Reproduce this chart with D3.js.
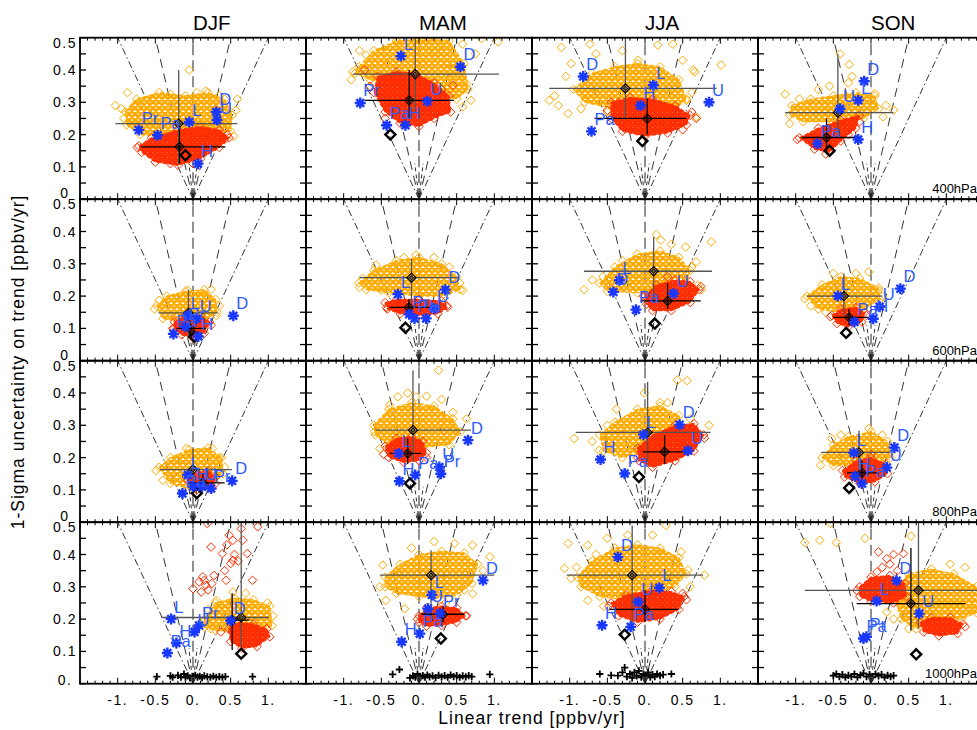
<!DOCTYPE html>
<html><head><meta charset="utf-8">
<script src="https://cdn.jsdelivr.net/npm/d3@7"></script>
<style>body{margin:0;background:#fff} svg{display:block} text{font-family:"Liberation Sans",Arial,Helvetica,sans-serif}</style>
</head><body><svg id="c" width="977" height="730"></svg>
<script>
// ---------------- DATA ----------------
const seasons = ["DJF","MAM","JJA","SON"];
const levels = ["400hPa","600hPa","800hPa","1000hPa"];
const xTicks = [-1,-0.5,0,0.5,1];
const xTickLabels = ["-1.","-0.5","0.","0.5","1."];
const yTicks = [0.5,0.4,0.3,0.2,0.1,0];
const yTickLabels = ["0.5","0.4","0.3","0.2","0.1","0"];
const yTickLabelsBottom = ["0.5","0.4","0.3","0.2","0.1","0."];
const fanRatios = [0,1,-1,2,-2];
const shortFanRatios = [0.5,-0.5];

// panels in row-major order: 400hPa DJF..SON, 600hPa ..., 800hPa ..., 1000hPa ...
const orangeCore = [
 [[-0.9,0.27,-0.75,0.31,-0.45,0.33,-0.1,0.32,0.2,0.33,0.42,0.31,0.52,0.26,0.5,0.21,0.2,0.2,-0.3,0.19,-0.7,0.2,-0.88,0.23]],
 [[-0.8,0.41,-0.6,0.46,-0.3,0.49,0.1,0.5,0.4,0.49,0.6,0.42,0.65,0.34,0.5,0.31,0.2,0.33,-0.3,0.35,-0.65,0.37,-0.85,0.39]],
 [[-0.95,0.34,-0.7,0.39,-0.4,0.41,-0.1,0.42,0.2,0.41,0.45,0.37,0.55,0.31,0.4,0.28,0.0,0.29,-0.4,0.28,-0.8,0.3]],
 [[-1.05,0.29,-0.8,0.31,-0.5,0.32,-0.2,0.33,0.05,0.32,0.1,0.28,-0.1,0.25,-0.5,0.24,-0.9,0.24,-1.08,0.26]],
 [[-0.48,0.17,-0.35,0.2,-0.1,0.215,0.15,0.22,0.3,0.19,0.32,0.15,0.15,0.125,-0.1,0.12,-0.4,0.13]],
 [[-0.8,0.24,-0.6,0.28,-0.3,0.31,0.0,0.32,0.3,0.3,0.5,0.26,0.55,0.22,0.3,0.2,0.0,0.2,-0.4,0.21,-0.7,0.22]],
 [[-0.6,0.24,-0.4,0.29,-0.1,0.33,0.2,0.34,0.45,0.32,0.6,0.28,0.55,0.24,0.3,0.22,-0.1,0.21,-0.5,0.215]],
 [[-0.85,0.2,-0.65,0.235,-0.4,0.26,-0.15,0.255,0.1,0.225,0.12,0.19,-0.1,0.16,-0.4,0.15,-0.7,0.16]],
 [[-0.45,0.17,-0.3,0.2,-0.05,0.225,0.2,0.23,0.38,0.2,0.4,0.15,0.25,0.11,0.0,0.1,-0.3,0.12]],
 [[-0.6,0.3,-0.4,0.35,-0.1,0.37,0.2,0.36,0.45,0.32,0.55,0.28,0.4,0.24,0.0,0.23,-0.4,0.24,-0.58,0.27]],
 [[-0.6,0.27,-0.4,0.31,-0.1,0.35,0.2,0.36,0.45,0.33,0.5,0.28,0.3,0.24,0.0,0.22,-0.3,0.2,-0.55,0.22]],
 [[-0.65,0.2,-0.5,0.24,-0.3,0.265,0.0,0.28,0.22,0.25,0.26,0.2,0.1,0.18,-0.2,0.175,-0.5,0.175]],
 [[0.15,0.2,0.3,0.25,0.55,0.265,0.8,0.26,1.02,0.24,1.05,0.18,0.9,0.16,0.6,0.16,0.3,0.165,0.15,0.175]],
 [[-0.45,0.33,-0.25,0.37,0.0,0.4,0.3,0.41,0.6,0.405,0.78,0.37,0.7,0.31,0.5,0.275,0.25,0.265,0.0,0.27,-0.3,0.28,-0.45,0.3]],
 [[-0.9,0.33,-0.7,0.38,-0.4,0.42,-0.1,0.43,0.2,0.42,0.45,0.39,0.55,0.34,0.4,0.3,0.1,0.28,-0.3,0.26,-0.6,0.27,-0.85,0.3]],
 [[0.35,0.3,0.5,0.34,0.8,0.355,1.1,0.34,1.4,0.3,1.4,0.22,1.2,0.2,0.9,0.2,0.6,0.17,0.4,0.2,0.32,0.26]]
];
const orangePts = [
 [-0.05,0.40,-1.03,0.29,-0.92,0.25,-0.87,0.33,0.54,0.195,0.59,0.31,0.57,0.275,0.17,0.335,0.26,0.31,-0.41,0.32,-0.54,0.31,-0.67,0.30,-0.78,0.29,-0.3,0.325,0.05,0.33,0.35,0.32,0.45,0.28,-0.6,0.27,-0.95,0.28],
 [-0.79,0.46,-0.70,0.446,-0.88,0.394,-0.28,0.487,0.27,0.47,0.58,0.48,1.05,0.487,0.83,0.497,0.69,0.306,0.58,0.286,0.63,0.358,0.49,0.38,-0.5,0.42,-0.1,0.44,0.75,0.45,0.2,0.455,-0.9,0.37],
 [-1.11,0.47,-0.73,0.48,-0.98,0.42,-1.27,0.306,-1.15,0.29,-1.02,0.265,0.37,0.48,0.17,0.477,1.01,0.415,0.66,0.394,0.64,0.40,0.68,0.255,0.55,0.306,-0.65,0.45,-0.09,0.43,-1.2,0.32,-0.85,0.28,-0.5,0.27,0.5,0.43,-0.3,0.46,-1.05,0.38,0.62,0.33],
 [-0.41,0.45,-0.29,0.417,-1.14,0.325,0.30,0.276,0.16,0.255,0.05,0.327,-1.08,0.234,-0.55,0.35,-0.7,0.34,-0.3,0.36,0.2,0.29,-0.95,0.31,-0.25,0.38],
 [-0.07,0.218,0.24,0.221,-0.45,0.187,0.31,0.14,-0.51,0.16,0.35,0.17,-0.3,0.14,0.1,0.2],
 [-0.79,0.228,-0.68,0.239,-0.5,0.218,0.58,0.218,0.54,0.24,-0.57,0.296,-0.04,0.327,-0.2,0.32,0.2,0.32,0.4,0.29,-0.75,0.255],
 [0.15,0.39,0.21,0.373,0.35,0.36,0.54,0.352,0.88,0.368,-0.81,0.22,0.7,0.233,0.75,0.22,-0.56,0.26,0.68,0.306,-0.3,0.31,0.62,0.29,-0.7,0.25],
 [-0.03,0.275,-0.88,0.192,0.1,0.218,-0.5,0.27,-0.2,0.27,0.15,0.2,-0.8,0.17,-0.6,0.15],
 [-0.09,0.228,0.26,0.228,0.35,0.2,-0.49,0.16,0.42,0.17,-0.4,0.13],
 [0.26,0.47,-0.28,0.388,-0.39,0.363,-0.04,0.388,0.63,0.32,0.4,0.305,-0.52,0.228,-0.59,0.28,0.3,0.38,0.45,0.34,-0.15,0.4,0.1,0.39],
 [0.43,0.44,0.56,0.438,-0.01,0.4,-0.38,0.35,0.2,0.37,-0.94,0.259,0.85,0.3,-0.61,0.223,-0.7,0.25,0.6,0.32,-0.5,0.3,0.3,0.37],
 [-0.03,0.29,-0.67,0.176,-0.52,0.259,0.28,0.22,-0.4,0.27,0.15,0.27],
 [0.31,0.258,0.99,0.25,0.24,0.17,0.53,0.284,0.2,0.23,0.7,0.28,1.06,0.21,0.13,0.19],
 [-0.48,0.367,-0.52,0.3,-0.44,0.258,-0.19,0.232,0.47,0.434,0.71,0.429,0.94,0.393,0.71,0.279,0.6,0.29,0.2,0.44,-0.1,0.42,0.85,0.35,0.35,0.25,-0.3,0.35],
 [-1.02,0.434,-0.76,0.429,0.28,0.49,-0.23,0.46,0.48,0.408,-1.07,0.357,-0.98,0.326,-0.91,0.36,-0.76,0.258,0.79,0.336,0.57,0.352,0.6,0.3,-0.55,0.24,-0.5,0.45,0.1,0.46,-0.65,0.4],
 [-0.88,0.437,-0.68,0.444,-0.46,0.437,-0.08,0.45,-0.54,0.496,0.53,0.457,0.21,0.222,0.3,0.2,1.25,0.36,1.05,0.37,0.5,0.17,1.35,0.23]
];
const redCore = [
 [[-0.72,0.165,-0.55,0.19,-0.2,0.215,0.1,0.225,0.35,0.215,0.48,0.19,0.35,0.16,0.1,0.125,-0.2,0.105,-0.5,0.115,-0.68,0.145]],
 [[-0.55,0.38,-0.3,0.395,-0.05,0.39,0.2,0.36,0.4,0.32,0.42,0.27,0.2,0.25,0.0,0.225,-0.25,0.235,-0.45,0.27,-0.6,0.33]],
 [[-0.45,0.3,-0.2,0.315,0.1,0.31,0.4,0.29,0.6,0.26,0.55,0.23,0.3,0.205,0.0,0.195,-0.3,0.21,-0.45,0.25]],
 [[-0.95,0.19,-0.7,0.22,-0.4,0.245,-0.15,0.26,-0.2,0.22,-0.4,0.18,-0.55,0.145,-0.75,0.155]],
 [[-0.25,0.12,-0.1,0.14,0.1,0.14,0.22,0.12,0.15,0.085,0.0,0.07,-0.15,0.08,-0.25,0.1]],
 [[-0.45,0.18,-0.3,0.19,0.0,0.19,0.3,0.185,0.38,0.165,0.25,0.145,0.0,0.14,-0.25,0.145,-0.42,0.16]],
 [[0.0,0.2,0.15,0.235,0.4,0.25,0.6,0.245,0.72,0.22,0.6,0.18,0.35,0.155,0.1,0.155,0.02,0.175]],
 [[-0.52,0.14,-0.4,0.16,-0.2,0.165,-0.08,0.15,-0.12,0.12,-0.3,0.105,-0.45,0.115]],
 [[-0.07,0.13,0.05,0.155,0.2,0.16,0.3,0.14,0.25,0.105,0.05,0.1]],
 [[-0.45,0.235,-0.3,0.26,-0.1,0.265,0.05,0.25,0.1,0.215,0.0,0.19,-0.2,0.185,-0.4,0.2]],
 [[-0.1,0.23,0.1,0.27,0.4,0.3,0.65,0.305,0.78,0.27,0.65,0.22,0.4,0.19,0.1,0.17,-0.08,0.19]],
 [[-0.38,0.16,-0.2,0.19,0.0,0.2,0.2,0.18,0.22,0.15,0.05,0.125,-0.15,0.12,-0.35,0.14]],
 [[0.47,0.17,0.6,0.19,0.8,0.185,0.98,0.17,1.02,0.145,0.85,0.115,0.65,0.11,0.5,0.13]],
 [[0.0,0.21,0.1,0.235,0.3,0.24,0.5,0.235,0.62,0.21,0.5,0.19,0.3,0.18,0.1,0.178,0.0,0.19]],
 [[-0.45,0.25,-0.25,0.275,0.1,0.29,0.35,0.285,0.52,0.27,0.45,0.23,0.2,0.2,-0.1,0.19,-0.35,0.21]],
 [[-0.15,0.3,0.0,0.33,0.25,0.335,0.45,0.31,0.47,0.27,0.3,0.25,0.0,0.255,-0.15,0.27],
  [0.65,0.19,0.8,0.205,1.05,0.205,1.22,0.185,1.15,0.155,0.9,0.148,0.7,0.16]]
];
const redPts = [
 [-0.74,0.16,0.46,0.2,0.42,0.185,-0.3,0.11,0.0,0.11],
 [-0.72,0.40,0.45,0.353,0.36,0.276,-0.65,0.35,0.3,0.34,-0.45,0.25],
 [-0.5,0.275,0.62,0.27,0.68,0.25,0.5,0.215,-0.35,0.3],
 [-0.98,0.185,-0.15,0.24,-0.3,0.2,-0.6,0.14],
 [-0.27,0.1,0.24,0.11],
 [-0.43,0.165,0.37,0.17],
 [0.3,0.26,0.74,0.23,-0.02,0.2],
 [-0.54,0.136,-0.06,0.14],
 [0.3,0.12],
 [-0.47,0.21,0.1,0.2],
 [0.79,0.26,-0.1,0.2],
 [0.0,0.21],
 [0.24,0.423,0.13,0.331,0.0,0.294,0.39,0.403,0.53,0.444,0.48,0.46,0.64,0.48,0.66,0.444,0.86,0.486,0.79,0.32,0.72,0.403,0.53,0.382,0.5,0.372,0.28,0.335,0.17,0.305,0.44,0.32,0.11,0.284,0.08,0.315,0.19,0.496,0.37,0.16,0.6,0.38,0.55,0.4,0.2,0.29,0.25,0.31,0.15,0.32,0.45,0.43,0.42,0.35],
 [-0.02,0.2,0.63,0.21],
 [-0.48,0.24,0.55,0.26,0.5,0.28],
 [0.1,0.408,0.21,0.387,0.43,0.403,0.08,0.346,-0.19,0.289,0.3,0.4,0.15,0.36,0.25,0.37,1.25,0.176,0.35,0.35]
];
// error crosses: [centre x, centre y, x low, x high, y low, y high]
const crossOrange = [
 [-0.19,0.234,-1.03,0.59,0.11,0.40],[-0.05,0.387,-0.88,1.06,0.27,0.52],[-0.26,0.343,-1.27,0.95,0.245,0.52],[-0.44,0.268,-1.14,0.30,0.2,0.45],
 [-0.06,0.148,-0.46,0.33,0.07,0.22],[-0.10,0.257,-0.79,0.52,0.165,0.316],[0.115,0.277,-0.81,0.89,0.182,0.383],[-0.36,0.2,-0.85,0.15,0.14,0.27],
 [0.0,0.163,-0.44,0.52,0.1,0.228],[-0.08,0.285,-0.57,0.69,0.187,0.47],[0.035,0.278,-0.92,0.87,0.192,0.434],[-0.16,0.216,-0.66,0.26,0.14,0.283],
 [0.64,0.205,-0.42,1.01,0.115,0.52],[0.16,0.336,-0.52,1.0,0.197,0.413],[-0.17,0.336,-1.04,0.77,0.186,0.49],[0.63,0.289,-0.88,1.6,0.17,0.52]
];
const crossRed = [
 [-0.18,0.162,-0.69,0.43,0.11,0.23],[-0.13,0.306,-0.72,0.46,0.25,0.40],[0.03,0.25,-0.67,0.55,0.2,0.31],[-0.59,0.191,-0.92,-0.19,0.147,0.25],
 [-0.04,0.1,-0.22,0.17,0.07,0.13],[-0.135,0.165,-0.39,0.17,0.14,0.19],[0.3,0.185,-0.06,0.74,0.16,0.24],[-0.29,0.134,-0.5,-0.03,0.11,0.16],
 [0.13,0.122,-0.07,0.42,0.1,0.15],[-0.15,0.213,-0.39,0.03,0.18,0.26],[0.26,0.218,-0.03,0.61,0.18,0.27],[-0.12,0.153,-0.32,0.1,0.125,0.19],
 [0.52,0.197,0.45,0.75,0.104,0.28],[0.32,0.215,0.03,0.6,0.19,0.24],[0.0,0.23,-0.47,0.44,0.19,0.29],[0.53,0.248,-0.19,1.25,0.165,0.42]
];
const stations = [
 [["D",0.31,0.27],["U",0.32,0.245],["L",-0.05,0.239],["Pr",-0.72,0.214],["Pa",-0.47,0.198],["H",0.066,0.11]],
 [["L",-0.24,0.443],["D",0.55,0.41],["U",0.11,0.303],["Pr",-0.78,0.298],["Pa",-0.43,0.229],["H",-0.18,0.229]],
 [["D",-0.82,0.38],["L",0.11,0.353],["H",-0.06,0.29],["U",0.85,0.30],["Pa",-0.71,0.21]],
 [["D",-0.09,0.365],["L",-0.17,0.306],["U",-0.41,0.28],["H",-0.17,0.185],["Pa",-0.71,0.172]],
 [["L",-0.07,0.14],["U",0.05,0.13],["Pr",-0.1,0.105],["Pa",-0.26,0.083],["H",0.07,0.075],["D",0.535,0.139]],
 [["L",-0.28,0.206],["D",0.35,0.22],["U",0.2,0.161],["Pr",-0.13,0.144],["Pa",-0.06,0.131],["H",0.095,0.131]],
 [["L",-0.34,0.249],["D",-0.42,0.213],["U",0.38,0.208],["Pa",-0.12,0.158]],
 [["L",-0.44,0.2],["D",0.39,0.223],["U",0.115,0.167],["H",0.03,0.13],["Pa",-0.22,0.12]],
 [["L",-0.07,0.146],["H",0.0,0.11],["U",0.12,0.11],["Pr",0.24,0.104],["Pa",-0.14,0.089],["D",0.52,0.128]],
 [["D",0.65,0.254],["L",-0.27,0.213],["H",-0.26,0.127],["Pa",-0.05,0.146],["U",0.27,0.171],["Pr",0.29,0.15]],
 [["L",-0.02,0.271],["D",0.46,0.302],["U",0.57,0.221],["H",-0.59,0.194],["Pa",-0.27,0.151]],
 [["L",-0.23,0.215],["D",0.31,0.231],["U",0.21,0.169],["H",-0.21,0.142],["Pa",-0.12,0.12]],
 [["L",-0.29,0.2],["Pr",0.08,0.18],["U",0.02,0.16],["D",0.5,0.195],["H",-0.22,0.126],["Pa",-0.34,0.095]],
 [["D",0.85,0.32],["L",0.17,0.275],["U",0.12,0.232],["Pr",0.28,0.217],["Pa",0.01,0.155],["H",-0.23,0.13]],
 [["D",-0.36,0.392],["L",0.19,0.297],["U",-0.09,0.253],["H",-0.57,0.181],["Pa",-0.19,0.176]],
 [["D",0.34,0.319],["L",0.075,0.256],["U",0.64,0.217],["Pa",-0.1,0.14],["Pr",-0.06,0.145]]
];
const bestPt = [
 [-0.1,0.136],[-0.38,0.2],[-0.035,0.18],[-0.55,0.15],
 [0.02,0.074],[-0.18,0.102],[0.13,0.115],[-0.33,0.086],
 [0.05,0.09],[-0.12,0.12],[-0.08,0.14],[-0.29,0.106],
 [0.64,0.093],[0.29,0.14],[-0.27,0.152],[0.6,0.091]
];
const plusPts = [
 [],[],[],[],[],[],[],[],[],[],[],[],
 [-0.48,0.022,-0.3,0.024,-0.27,0.02,-0.2,0.026,-0.16,0.02,-0.12,0.03,-0.1,0.02,-0.07,0.024,-0.04,0.018,0,0.022,0.03,0.026,0.06,0.02,0.09,0.023,0.12,0.019,0.15,0.024,0.19,0.021,0.23,0.02,0.27,0.023,0.31,0.02,0.35,0.022,0.39,0.02,0.43,0.022,0.79,0.022],
 [-0.35,0.029,-0.26,0.044,-0.12,0.018,-0.08,0.024,-0.05,0.02,-0.02,0.03,0.02,0.02,0.05,0.025,0.08,0.02,0.11,0.027,0.14,0.021,0.18,0.024,0.22,0.019,0.26,0.026,0.3,0.021,0.34,0.025,0.38,0.02,0.42,0.027,0.46,0.022,0.5,0.025,0.54,0.02,0.58,0.024,0.62,0.021,0.66,0.025,0.7,0.022,0.94,0.029],
 [-0.6,0.03,-0.45,0.026,-0.36,0.025,-0.3,0.035,-0.27,0.05,-0.24,0.022,-0.2,0.03,-0.17,0.018,-0.14,0.035,-0.11,0.024,-0.08,0.04,-0.05,0.02,-0.02,0.03,0.01,0.024,0.04,0.035,0.07,0.02,0.1,0.028,0.13,0.022,0.16,0.03,0.2,0.025,0.24,0.028,0.35,0.03],
 [-0.5,0.025,-0.46,0.03,-0.42,0.022,-0.38,0.028,-0.34,0.02,-0.3,0.026,-0.26,0.022,-0.22,0.03,-0.18,0.02,-0.14,0.027,-0.1,0.032,-0.06,0.022,-0.02,0.028,0.02,0.02,0.06,0.03,0.1,0.024,0.14,0.028,0.18,0.02,0.22,0.026,0.26,0.022,0.3,0.025]
];

// ---------------- LAYOUT / STYLE ----------------
const colLeft = [80, 306, 532, 758], colW = 226;
const rowTop = [37.7, 199.2, 360.7, 522.2], rowH = 161.5;
const ORANGE = "#ffab00", RED = "#ff2e00", BLUE = "#1838ff", BLUETXT = "#2d5bff";
const svg = d3.select("#c");
const defs = svg.append("defs");
const pairs = a => d3.range(0, a.length, 2).map(i => [a[i], a[i+1]]);
const diamond = r => `M0,${-r}L${r},0L0,${r}L${-r},0Z`;

// texture patterns that imitate many overlapping open diamonds
function makePattern(id, col, size, sw) {
  const pt = defs.append("pattern").attr("id", id).attr("patternUnits", "userSpaceOnUse")
    .attr("width", size).attr("height", size);
  const h = size / 2;
  pt.append("path").attr("d", `M${h},0L${size},${h}L${h},${size}L0,${h}Z`)
    .attr("fill", "none").attr("stroke", col).attr("stroke-width", sw);
}
makePattern("texOrange", ORANGE, 6, 2.7);
makePattern("texRed", RED, 5, 3.2);

function drawPanel(p) {
  const r = Math.floor(p / 4), c = p % 4;
  const x = d3.scaleLinear().domain([-1.5, 1.5]).range([colLeft[c], colLeft[c] + colW]);
  const y = d3.scaleLinear().domain([0, 0.5]).range([rowTop[r] + rowH, rowTop[r]]);
  defs.append("clipPath").attr("id", "clip" + p).append("rect")
    .attr("x", x(-1.5)).attr("y", y(0.5)).attr("width", x(1.5) - x(-1.5)).attr("height", y(0) - y(0.5));
  const g = svg.append("g").attr("clip-path", `url(#clip${p})`);

  // fan of reference lines from the origin
  fanRatios.forEach(k => {
    g.append("line").attr("x1", x(0)).attr("y1", y(0)).attr("x2", x(k * 0.5)).attr("y2", y(0.5))
      .attr("stroke", k === 0 ? "#555" : "#333").attr("stroke-width", k === 0 ? 1.3 : 1)
      .attr("stroke-dasharray", k === 0 ? "11,5" : (Math.abs(k) === 1 ? "9,6" : "7,3,1.5,3"));
  });
  shortFanRatios.forEach(k => {
    g.append("line").attr("x1", x(0)).attr("y1", y(0)).attr("x2", x(k * 0.11)).attr("y2", y(0.11))
      .attr("stroke", "#333").attr("stroke-width", 1).attr("stroke-dasharray", "4,3");
  });

  const line = d3.line().x(d => x(d[0])).y(d => y(d[1])).curve(d3.curveLinearClosed);
  function cloud(cores, pts, col, tex) {
    cores.forEach(poly => {
      const pp = pairs(poly);
      g.append("path").attr("d", line(pp)).attr("fill", `url(#${tex})`).attr("stroke", col).attr("stroke-width", 1.2)
        .attr("stroke-dasharray", "4,2");
      g.selectAll(null).data(pp).join("path").attr("d", diamond(4.3))
        .attr("transform", d => `translate(${x(d[0])},${y(d[1])})`)
        .attr("fill", "none").attr("stroke", col).attr("stroke-width", 1);
    });
    g.selectAll(null).data(pairs(pts)).join("path").attr("d", diamond(4.3))
      .attr("transform", d => `translate(${x(d[0])},${y(d[1])})`)
      .attr("fill", "none").attr("stroke", col).attr("stroke-width", 1);
  }
  cloud(orangeCore[p], orangePts[p], ORANGE, "texOrange");
  cloud(redCore[p], redPts[p], RED, "texRed");

  function cross(cr, col) {
    const [cx, cy, xl, xh, yl, yh] = cr;
    g.append("line").attr("x1", x(xl)).attr("x2", x(xh)).attr("y1", y(cy)).attr("y2", y(cy)).attr("stroke", col).attr("stroke-width", 1.3);
    g.append("line").attr("x1", x(cx)).attr("x2", x(cx)).attr("y1", y(yl)).attr("y2", y(yh)).attr("stroke", col).attr("stroke-width", 1.3);
    g.append("path").attr("d", diamond(4.6)).attr("transform", `translate(${x(cx)},${y(cy)})`)
      .attr("fill", "none").attr("stroke", "#000").attr("stroke-width", 1.2);
    g.append("circle").attr("cx", x(cx)).attr("cy", y(cy)).attr("r", 1.8).attr("fill", "none").attr("stroke", "#000").attr("stroke-width", 0.9);
  }
  cross(crossOrange[p], "#555");
  cross(crossRed[p], "#000");

  // plus signs
  g.selectAll(null).data(pairs(plusPts[p])).join("path").attr("d", "M-3.6,0H3.6M0,-3.6V3.6")
    .attr("transform", d => `translate(${x(d[0])},${y(d[1])})`).attr("stroke", "#000").attr("stroke-width", 1.8);

  // best estimate diamond
  g.append("path").attr("d", diamond(5)).attr("transform", `translate(${x(bestPt[p][0])},${y(bestPt[p][1])})`)
    .attr("fill", "none").attr("stroke", "#000").attr("stroke-width", 2.4);

  // stations
  const st = svg.append("g");
  stations[p].forEach(s => {
    const sx = x(s[1]), sy = y(s[2]);
    st.append("path").attr("d", "M-5.5,0H5.5M0,-5.5V5.5M-3.9,-3.9L3.9,3.9M-3.9,3.9L3.9,-3.9")
      .attr("transform", `translate(${sx},${sy})`).attr("stroke", BLUE).attr("stroke-width", 2.4);
    st.append("circle").attr("cx", sx).attr("cy", sy).attr("r", 2.6).attr("fill", BLUE);
  });
  stations[p].forEach(s => {
    st.append("text").attr("x", x(s[1]) + 3).attr("y", y(s[2]) - 6.5).attr("font-size", 16.5)
      .attr("fill", BLUETXT).text(s[0]);
  });

  // origin marker
  svg.append("path").attr("d", "M-3,-7L3,-7L0,0Z").attr("transform", `translate(${x(0)},${y(0)})`).attr("fill", "#444");

  // frame ticks
  const fr = svg.append("g").attr("stroke", "#000");
  d3.range(0, 0.5001, 0.05).forEach(v => {
    fr.append("line").attr("x1", x(-1.5)).attr("x2", x(-1.5) + 6).attr("y1", y(v)).attr("y2", y(v)).attr("stroke-width", 1.3);
    fr.append("line").attr("x1", x(1.5)).attr("x2", x(1.5) - 6).attr("y1", y(v)).attr("y2", y(v)).attr("stroke-width", 1.3);
  });
  d3.range(-15, 16).forEach(i => {
    const v = i / 10, major = i % 5 === 0, len = major ? 6 : 3;
    fr.append("line").attr("x1", x(v)).attr("x2", x(v)).attr("y1", y(0)).attr("y2", y(0) - len).attr("stroke-width", 1);
    fr.append("line").attr("x1", x(v)).attr("x2", x(v)).attr("y1", y(0.5)).attr("y2", y(0.5) + len).attr("stroke-width", 1);
  });
  fr.append("rect").attr("x", x(-1.5)).attr("y", y(0.5)).attr("width", x(1.5) - x(-1.5)).attr("height", y(0) - y(0.5))
    .attr("fill", "none").attr("stroke-width", 1.8);

  // axis labels
  if (c === 0) {
    const labs = r === 3 ? yTickLabelsBottom : yTickLabels;
    yTicks.forEach((v, i) => {
      const shift = v === 0.5 ? 5 : (v === 0 ? (r === 3 ? -3.5 : -6) : 0);
      svg.append("text").attr("x", 65).attr("y", y(v) + shift).attr("dy", "0.36em").attr("text-anchor", "middle")
        .attr("font-size", 14).attr("letter-spacing", 1.5).text(labs[i]);
    });
  }
  if (r === 3) {
    xTicks.forEach((v, i) => {
      svg.append("text").attr("x", x(v)).attr("y", 705).attr("text-anchor", "middle")
        .attr("font-size", 14).attr("letter-spacing", 1.5).text(xTickLabels[i]);
    });
  }
  if (r === 0) {
    svg.append("text").attr("x", x(0)).attr("y", 30).attr("font-size", 20.5).text(seasons[c]);
  }
  if (c === 3) {
    svg.append("text").attr("x", 977).attr("y", y(0) - 6).attr("text-anchor", "end").attr("font-size", 13).text(levels[r]);
  }
}
d3.range(16).forEach(drawPanel);

svg.append("text").attr("x", 532).attr("y", 724).attr("text-anchor", "middle").attr("font-size", 17.5)
  .attr("letter-spacing", 1).text("Linear trend [ppbv/yr]");
svg.append("text").attr("transform", "translate(24,362) rotate(-90)").attr("text-anchor", "middle").attr("font-size", 17.5)
  .attr("letter-spacing", 1).text("1-Sigma uncertainty on trend [ppbv/yr]");
</script></body></html>
